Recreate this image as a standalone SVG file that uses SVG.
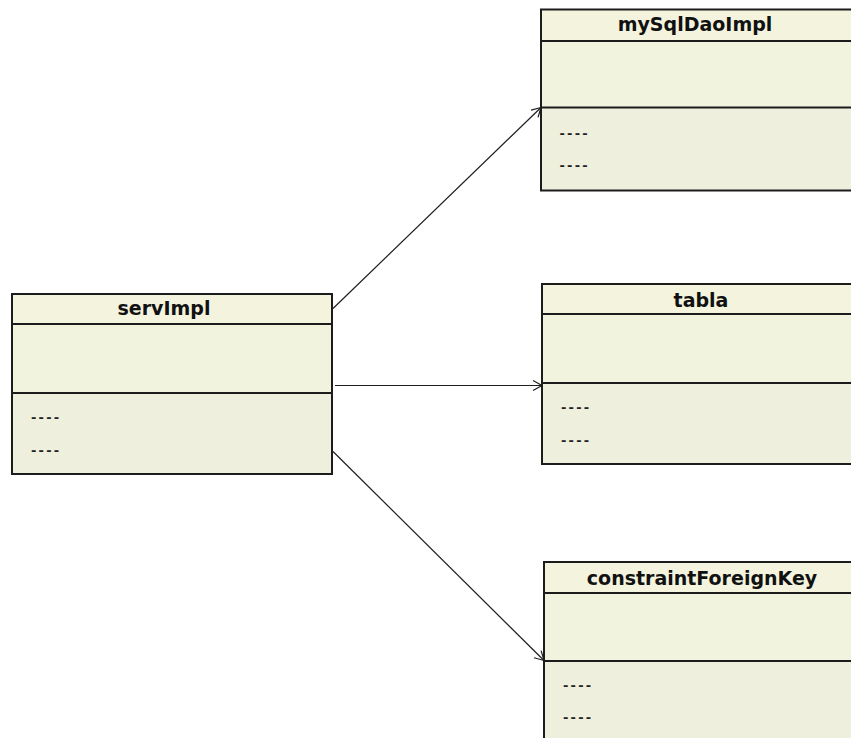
<svg xmlns="http://www.w3.org/2000/svg" width="851" height="738" viewBox="0 0 851 738">
  <style>
    .frame { fill: none; stroke: #1c1c1c; stroke-width: 2; }
    .head { fill: #f4f4de; }
    .attrs { fill: #f2f3de; }
    .ops { fill: #eeefdc; }
    .rule { stroke: #1c1c1c; stroke-width: 2; }
    .title { font-family: "DejaVu Sans", Verdana, sans-serif; font-weight: bold; font-size: 19px; fill: #111; text-anchor: middle; }
    .item { font-family: "DejaVu Sans", Verdana, sans-serif; font-weight: bold; font-size: 13px; fill: #222; letter-spacing: 2.2px; }
    .link { fill: none; stroke: #1e1e1e; stroke-width: 1.2; marker-end: url(#open); }
  </style>
  <defs>
    <marker id="open" markerUnits="userSpaceOnUse" viewBox="-11 -7 13 14" refX="0" refY="0" markerWidth="13" markerHeight="14" orient="auto">
      <path d="M-9,-5 L0,0 L-9,5" fill="none" stroke="#1e1e1e" stroke-width="1.2"/>
    </marker>
  </defs>
  <rect width="851" height="738" fill="#ffffff"/>

  <!-- connectors -->
  <g id="connectors">
    <line class="link" x1="333" y1="308.5" x2="541" y2="107.5"/>
    <line class="link" x1="335" y1="385.5" x2="542" y2="385.5"/>
    <line class="link" x1="333" y1="451.5" x2="544" y2="660.5"/>
  </g>

  <!-- class servImpl -->
  <g id="servImpl">
    <rect class="head" x="12" y="294" width="320" height="30"/>
    <rect class="attrs" x="12" y="324" width="320" height="69"/>
    <rect class="ops" x="12" y="393" width="320" height="81"/>
    <rect class="frame" x="12" y="294" width="320" height="180"/>
    <line class="rule" x1="12" y1="324" x2="332" y2="324"/>
    <line class="rule" x1="12" y1="393" x2="332" y2="393"/>
    <text class="title" x="164" y="315">servImpl</text>
    <text class="item" x="31" y="421.5">----</text>
    <text class="item" x="31" y="454.5">----</text>
  </g>

  <!-- class mySqlDaoImpl -->
  <g id="mySqlDaoImpl">
    <rect class="head" x="541" y="9.5" width="330" height="31.5"/>
    <rect class="attrs" x="541" y="41" width="330" height="66.5"/>
    <rect class="ops" x="541" y="107.5" width="330" height="83"/>
    <rect class="frame" x="541" y="9.5" width="330" height="181"/>
    <line class="rule" x1="541" y1="41" x2="871" y2="41"/>
    <line class="rule" x1="541" y1="107.5" x2="871" y2="107.5"/>
    <text class="title" x="695" y="31">mySqlDaoImpl</text>
    <text class="item" x="559.5" y="138">----</text>
    <text class="item" x="559.5" y="169.5">----</text>
  </g>

  <!-- class tabla -->
  <g id="tabla">
    <rect class="head" x="542" y="284" width="330" height="30"/>
    <rect class="attrs" x="542" y="314" width="330" height="69"/>
    <rect class="ops" x="542" y="383" width="330" height="81"/>
    <rect class="frame" x="542" y="284" width="330" height="180"/>
    <line class="rule" x1="542" y1="314" x2="872" y2="314"/>
    <line class="rule" x1="542" y1="383" x2="872" y2="383"/>
    <text class="title" x="701" y="306.5">tabla</text>
    <text class="item" x="561" y="411.5">----</text>
    <text class="item" x="561" y="444.5">----</text>
  </g>

  <!-- class constraintForeignKey -->
  <g id="constraintForeignKey">
    <rect class="head" x="544" y="562" width="330" height="31"/>
    <rect class="attrs" x="544" y="593" width="330" height="68"/>
    <rect class="ops" x="544" y="661" width="330" height="100"/>
    <rect class="frame" x="544" y="562" width="330" height="199"/>
    <line class="rule" x1="544" y1="593" x2="874" y2="593"/>
    <line class="rule" x1="544" y1="661" x2="874" y2="661"/>
    <text class="title" x="702" y="585">constraintForeignKey</text>
    <text class="item" x="563" y="690">----</text>
    <text class="item" x="563" y="722">----</text>
  </g>
</svg>
